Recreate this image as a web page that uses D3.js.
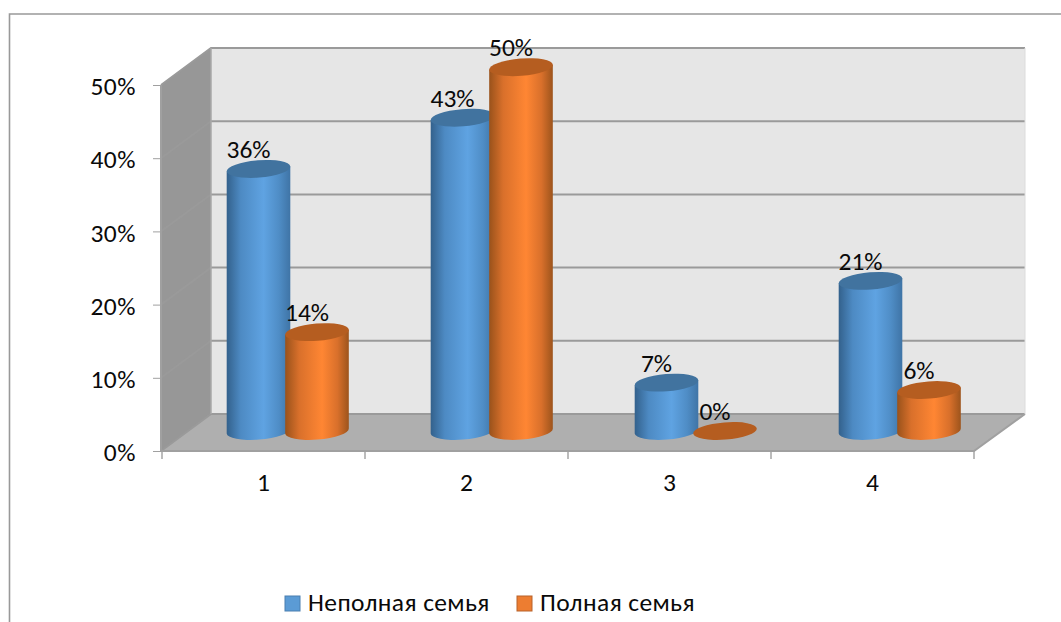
<!DOCTYPE html>
<html><head><meta charset="utf-8">
<script src="https://cdn.jsdelivr.net/npm/d3@7/dist/d3.min.js"></script>
<style>html,body{margin:0;padding:0;background:#fff;overflow:hidden}svg{display:block}text{font-family:Carlito,Lato,"Open Sans",sans-serif;fill:#0a0a0a}</style>
</head><body><svg id="c" width="1061" height="622"></svg>
<script>
const categories = ["1","2","3","4"];
const seriesNames = ["Неполная семья","Полная семья"];
const incomplete = [0.358,0.428,0.066,0.205];
const complete = [0.135,0.497,0,0.056];
const tickValues = [0,0.1,0.2,0.3,0.4,0.5];

const svg = d3.select("#c");
const W = 1061, H = 622, fs = 25.5;
const frontLeft = 161, frontRight = 974, depthX = 50, depthY = -37;
const y = d3.scaleLinear().domain([0,0.5]).range([451,85]);
const x = d3.scaleBand().domain(categories).range([162,974]);
const xBar = d3.scaleBand().domain(categories).range([185.8,1001.8]);
const pct = d3.format(".0%");
const colors = [
  {stops:["#33618c","#4d8ac3","#5fa3e2","#4f8dc6","#3f74a6"],top:"#41739f"},
  {stops:["#99521b","#d9702b","#ff8633","#d9702b","#9d541c"],top:"#b55d20"}
];
const defs = svg.append("defs");
colors.forEach((c,i)=>{
  const g = defs.append("linearGradient").attr("id","cyl"+i).attr("x1",0).attr("x2",1).attr("y1",0).attr("y2",0);
  [0,0.22,0.58,0.82,1].forEach((o,k)=>g.append("stop").attr("offset",o).attr("stop-color",c.stops[k]));
});

// frame
svg.append("path").attr("d",`M9.5,${H}V14H${W}`).attr("fill","none").attr("stroke","#999").attr("stroke-width",1.6);

// walls
const y0 = y(0), yTop = y(0.5);
svg.append("rect").attr("x",frontLeft+depthX).attr("y",yTop+depthY).attr("width",frontRight+1-frontLeft).attr("height",y0-yTop).attr("fill","#e6e6e6");
svg.append("path").attr("d",`M${frontLeft},${yTop}L${frontLeft+depthX},${yTop+depthY}V${y0+depthY}L${frontLeft},${y0}Z`).attr("fill","#979797");
svg.append("path").attr("d",`M${frontLeft},${y0}L${frontLeft+depthX},${y0+depthY}H${frontRight+depthX+1}L${frontRight},${y0}Z`).attr("fill","#afafaf");
// gridlines
svg.append("g").selectAll("path").data(tickValues).join("path")
  .attr("d",d=>`M${frontLeft},${y(d)}L${frontLeft+depthX},${y(d)+depthY}H${frontRight+depthX+1}`)
  .attr("fill","none").attr("stroke","#9a9a9a").attr("stroke-width",2);
svg.append("path").attr("d",`M${frontRight+depthX+1},${y0+depthY}L${frontRight},${y0}H${frontLeft}V${yTop}`).attr("fill","none").attr("stroke","#a0a0a0").attr("stroke-width",2);
svg.append("path").attr("d",`M${frontLeft+depthX},${yTop+depthY}V${y0+depthY}`).attr("fill","none").attr("stroke","#a8a8a8").attr("stroke-width",1.5);
svg.append("path").attr("d",`M${frontRight+depthX+1},${yTop+depthY}V${y0+depthY}`).attr("fill","none").attr("stroke","#dcdcdc").attr("stroke-width",1);

// axes
const axL = svg.append("g").attr("transform",`translate(${frontLeft},0)`)
  .call(d3.axisLeft(y).tickValues(tickValues).tickFormat(d3.format(".0%")).tickSize(8).tickPadding(17));
axL.select(".domain").remove();
axL.selectAll("line").attr("stroke","#a0a0a0");
axL.selectAll("text").attr("font-size",fs).attr("dy","0.38em").attr("letter-spacing",0.5);
const axB = svg.append("g").attr("transform",`translate(0,${y0})`)
  .call(d3.axisBottom(x).tickSize(0).tickPadding(22));
axB.select(".domain").remove();
axB.selectAll("text").attr("font-size",fs).attr("dy","0.71em");
svg.append("g").selectAll("line").data([...categories.map(c=>x(c)),x.range()[1]]).join("line")
  .attr("x1",d=>d).attr("x2",d=>d).attr("y1",y0).attr("y2",y0+8).attr("stroke","#a0a0a0").attr("stroke-width",1.4);

// cylinders
const rx = 31.9, ry = 8.6, rot = -4.5;
const rad = rot*Math.PI/180, ex = rx*Math.cos(rad), ey = rx*Math.sin(rad);
const lift = 20; // floor centre above front axis
const offsets = [-29.3,29.2];
const series = [incomplete, complete];
const cxOf = (c,si) => xBar(c)+xBar.bandwidth()/2+offsets[si];
series.forEach((vals,si)=>{
  const data = categories.map((c,i)=>({c,v:vals[i]}));
  const gs = svg.append("g").selectAll("g").data(data).join("g");
  gs.filter(d=>d.v>0).append("path")
    .attr("d",d=>{
      const X=cxOf(d.c,si),yt=y(d.v)-lift,yb=y(0)-lift;
      return `M${X-ex},${yt-ey}L${X-ex},${yb-ey}A${rx},${ry} ${rot} 0 0 ${X+ex},${yb+ey}L${X+ex},${yt+ey}Z`;
    }).attr("fill",`url(#cyl${si})`);
  gs.append("ellipse")
    .attr("rx",rx).attr("ry",ry)
    .attr("transform",d=>`translate(${cxOf(d.c,si)},${y(d.v)-lift}) rotate(${rot})`)
    .attr("fill",colors[si].top);
});
// labels above all
series.forEach((vals,si)=>{
  svg.append("g").selectAll("text").data(categories.map((c,i)=>({c,v:vals[i]}))).join("text")
    .attr("x",d=>cxOf(d.c,si)-10).attr("y",d=>y(d.v)-lift-11)
    .attr("text-anchor","middle").attr("font-size",fs).text(d=>pct(d.v));
});

// legend
const legend = svg.append("g").selectAll("g").data(seriesNames).join("g")
  .attr("transform",(d,i)=>`translate(${[285,517][i]},596)`);
legend.append("rect").attr("width",15).attr("height",15)
  .attr("fill",(d,i)=>["#5b9bd5","#ed7d31"][i]).attr("stroke",(d,i)=>["#4a7fb0","#b8622a"][i]);
legend.append("text").attr("x",23).attr("y",15).attr("font-size",fs).attr("letter-spacing",0.4).text(d=>d);
</script></body></html>
